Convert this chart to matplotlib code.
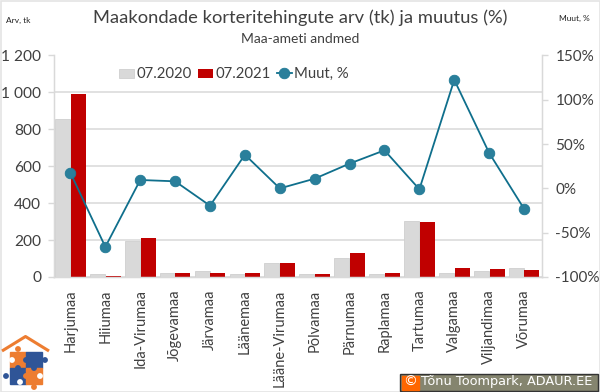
import matplotlib
matplotlib.use("Agg")
import matplotlib.pyplot as plt
from matplotlib.patches import Rectangle, Circle
from matplotlib.ticker import FuncFormatter
import numpy as np

plt.rcParams["font.family"] = ["Lato", "DejaVu Sans"]

maakonnad = ["Harjumaa", "Hiiumaa", "Ida-Virumaa", "Jõgevamaa", "Järvamaa", "Läänemaa",
             "Lääne-Virumaa", "Põlvamaa", "Pärnumaa", "Raplamaa", "Tartumaa", "Valgamaa",
             "Viljandimaa", "Võrumaa"]
arv_2020 = [855, 14, 195, 24, 32, 16, 76, 16, 105, 16, 305, 22, 33, 50]
arv_2021 = [991, 6, 212, 24, 24, 24, 76, 18, 132, 24, 298, 50, 45, 37]
muut = [17.5, -66, 9.5, 8, -19.5, 38, 0, 11, 28, 43, -1, 122.5, 40, -23]

W, H = 600, 392
text_col = "#404040"
grid_col = "#d9d9d9"

fig = plt.figure(figsize=(W / 100, H / 100), dpi=100)
ax = fig.add_axes([53.7 / W, 1 - 277 / H, (541.5 - 53.7) / W, (277 - 55.5) / H])
x = np.arange(len(maakonnad))

ax.bar(x - 0.225, arv_2020, 0.43, color="#d9d9d9", edgecolor="#cfcfcf", linewidth=0.6, label="07.2020", zorder=2)
ax.bar(x + 0.225, arv_2021, 0.43, color="#c00000", label="07.2021", zorder=2)
ax.set_xlim(-0.48, len(maakonnad) - 0.5)
ax.set_ylim(0, 1200)
ax.set_yticks(range(0, 1201, 200))
ax.yaxis.set_major_formatter(FuncFormatter(lambda v, p: f"{int(v):,}".replace(",", " ")))
ax.grid(axis="y", color=grid_col, linewidth=1.1, zorder=0)
ax.set_axisbelow(True)
ax.set_xticks(x)
ax.set_xticklabels(maakonnad, rotation=90, fontsize=10.5, color=text_col)
ax.tick_params(axis="x", length=0, pad=9)
ax.tick_params(axis="y", length=4, color=grid_col, width=1, labelsize=11.2, labelcolor=text_col, pad=5)
ax.spines["top"].set_visible(False)
for s in ["left", "right", "bottom"]:
    ax.spines[s].set_color(grid_col)
    ax.spines[s].set_linewidth(1)

ax2 = ax.twinx()
ax2.plot(x, muut, color="#0f6f8c", linewidth=1.3, marker="o", markersize=7.6,
         markerfacecolor="#2a7f9b", markeredgecolor="#1f7a96", markeredgewidth=0.6, label="Muut, %", zorder=5)
ax2.set_ylim(-100, 150)
ax2.set_yticks(range(-100, 151, 50))
ax2.yaxis.set_major_formatter(FuncFormatter(lambda v, p: f"{int(v)}%"))
ax2.tick_params(axis="y", length=4, color=grid_col, width=1, labelsize=11, labelcolor=text_col, pad=6)
ax2.spines["top"].set_visible(False)
for s in ["left", "right", "bottom"]:
    ax2.spines[s].set_color(grid_col)

h1, l1 = ax.get_legend_handles_labels()
h2, l2 = ax2.get_legend_handles_labels()
ax2.legend(h1 + h2, l1 + l2, ncols=3, frameon=False, fontsize=10.7, labelcolor=text_col,
           loc="center left", bbox_to_anchor=(0.133, 0.915), handlelength=1.05, handletextpad=0.15,
           handleheight=0.55, columnspacing=0.4, borderpad=0, borderaxespad=0)

fig.text(300 / W, 1 - 18 / H, "Maakondade korteritehingute arv (tk) ja muutus (%)", ha="center", va="center",
         fontsize=13.2, color=text_col)
fig.text(300 / W, 1 - 39 / H, "Maa-ameti andmed", ha="center", va="center", fontsize=10, color=text_col)
fig.text(6 / W, 1 - 20 / H, "Arv, tk", ha="left", va="center", fontsize=6, color="#222222")
fig.text(559 / W, 1 - 18 / H, "Muut, %", ha="left", va="center", fontsize=6, color="#222222")

# logo and copyright box, pixel coordinates
over = fig.add_axes([0, 0, 1, 1], facecolor="none")
over.set_xlim(0, W)
over.set_ylim(H, 0)
over.axis("off")
over.add_patch(Rectangle((0.5, 0.5), W - 1, H - 1, fill=False, edgecolor="#e4e4e4", linewidth=1.2))
over.plot([2, 25.5, 49], [351, 336.5, 351], color="#ed7d31", linewidth=2.2, solid_capstyle="butt")
over.add_patch(Rectangle((10, 352), 16, 16, color="#ed7d31"))
over.add_patch(Rectangle((26, 352), 16, 16, color="#2f5597"))
over.add_patch(Rectangle((10, 368), 16, 16, color="#2f5597"))
over.add_patch(Rectangle((26, 368), 16, 16, color="#ed7d31"))
for cx, cy, c in [(18, 349, "#ed7d31"), (34, 387, "#ed7d31"), (6, 376, "#2f5597"), (45, 360, "#2f5597"),
                  (26, 360, "#2f5597"), (26, 376, "#ed7d31"), (18, 368, "#2f5597"), (34, 368, "#2f5597"),
                  (12, 360, "white"), (40, 376, "white"), (20, 382, "white")]:
    over.add_patch(Circle((cx, cy), 2.2, color=c))
over.add_patch(Rectangle((399.5, 373.5), 198, 17, facecolor="#85856f", edgecolor="#333333", linewidth=1))
over.add_patch(Rectangle((402, 375.5), 17, 14, color="#ff6600"))
over.text(410.5, 382, "©", color="white", fontsize=10, ha="center", va="center", family="DejaVu Sans")
over.text(421, 382, "Tõnu Toompark, ADAUR.EE", color="white", fontsize=9.3, ha="left", va="center", family="DejaVu Sans")

fig.savefig("out.png", dpi=100)
